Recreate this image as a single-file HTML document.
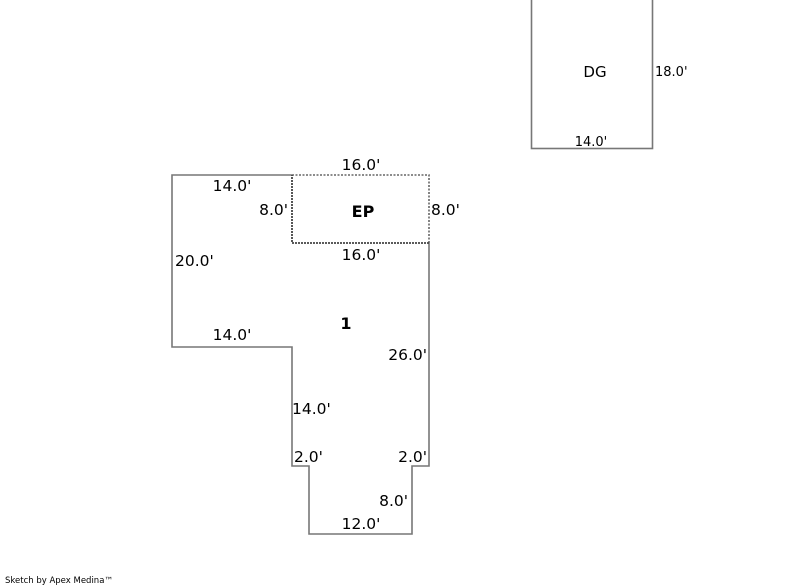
<!DOCTYPE html>
<html><head><meta charset="utf-8"><style>
html,body{margin:0;padding:0;background:#fff;width:800px;height:587px;overflow:hidden}
svg{display:block}
text{font-family:"DejaVu Sans","Liberation Sans",sans-serif;fill:#000}
</style></head><body>
<svg width="800" height="587" viewBox="0 0 800 587">
<g fill="none" stroke="#777" stroke-width="1.6">
<polyline points="292,175 172,175 172,347 292,347 292,466 309,466 309,534 412,534 412,466 429,466 429,243"/>
<rect x="531.5" y="-5" width="121" height="153.5"/>
</g>
<g fill="none" stroke="#666" stroke-width="1.6" stroke-dasharray="2,1.5">
<polyline points="292,175 429,175 429,243"/>
</g>
<g fill="none" stroke="#444" stroke-width="1.8" stroke-dasharray="2,1">
<polyline points="429,243 292,243 292,175"/>
</g>
<g font-size="15.5">
<text x="361" y="170" text-anchor="middle">16.0'</text>
<text x="232" y="191" text-anchor="middle">14.0'</text>
<text x="288" y="215" text-anchor="end">8.0'</text>
<text x="431" y="215">8.0'</text>
<text x="175" y="266">20.0'</text>
<text x="361" y="260" text-anchor="middle">16.0'</text>
<text x="232" y="340" text-anchor="middle">14.0'</text>
<text x="427" y="360" text-anchor="end">26.0'</text>
<text x="292" y="414">14.0'</text>
<text x="294" y="462">2.0'</text>
<text x="427" y="462" text-anchor="end">2.0'</text>
<text x="408" y="506" text-anchor="end">8.0'</text>
<text x="361" y="529" text-anchor="middle">12.0'</text>
</g>
<text x="363" y="217" text-anchor="middle" font-size="16" font-weight="bold">EP</text>
<text x="346" y="329" text-anchor="middle" font-size="16" font-weight="bold">1</text>
<text x="595" y="77" text-anchor="middle" font-size="15">DG</text>
<text x="655" y="76" font-size="13">18.0'</text>
<text x="591" y="146" text-anchor="middle" font-size="13">14.0'</text>
<text x="5" y="583" font-size="8.5">Sketch by Apex Medina™</text>
</svg>
</body></html>
